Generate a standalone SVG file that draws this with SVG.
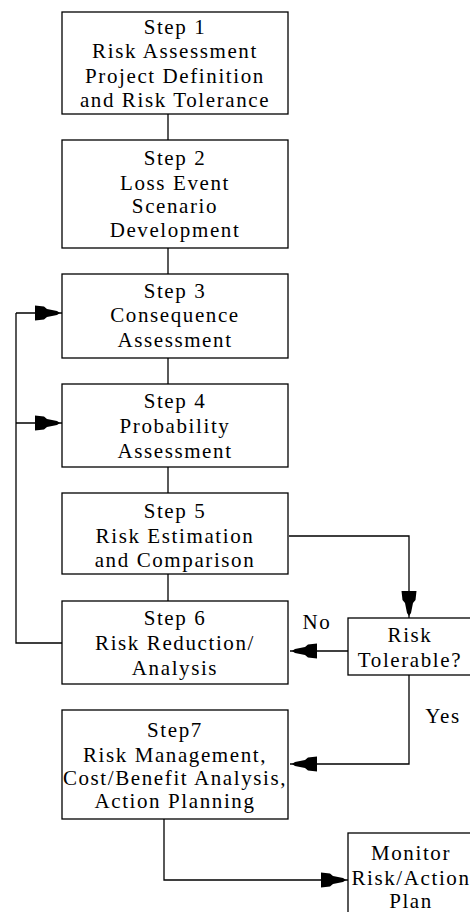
<svg xmlns="http://www.w3.org/2000/svg" width="470" height="912" viewBox="0 0 470 912">
<defs>
<style>
.box{fill:#fff;stroke:#000;stroke-width:1.3}
.ln{fill:none;stroke:#000;stroke-width:1.3}
.arr{fill:none;stroke:#000;stroke-width:1.3;marker-end:url(#ah)}
</style>
<marker id="ah" markerUnits="userSpaceOnUse" viewBox="-26 -8 30 16" markerWidth="30" markerHeight="16" refX="2" refY="0" orient="auto">
<polygon points="-25,-7.5 -16,-6.5 -13,-4 -3,-2 0,0 -3,2 -13,4 -16,6.5 -25,7.5" fill="#000"/>
</marker>
</defs>
<rect width="470" height="912" fill="#fff"/>
<g font-family="Liberation Serif, Times New Roman, serif" font-size="21" letter-spacing="1.6" text-anchor="middle" fill="#000">
<g id="connectors">
<path class="ln" d="M168,114 V140"/>
<path class="ln" d="M168,248 V274"/>
<path class="ln" d="M168,358 V384"/>
<path class="ln" d="M168,467 V493"/>
<path class="ln" d="M168,574 V601"/>
<path class="ln" d="M62,643 H16 V313"/>
<path class="arr" d="M16,313 H62"/>
<path class="arr" d="M16,423 H62"/>
<path class="arr" d="M289,536 H409 V618"/>
<path class="arr" d="M348,651 H290"/>
<path class="arr" d="M409,675 V764 H290"/>
<path class="arr" d="M164,819 V880 H348"/>
<text x="317" y="629">No</text>
<text x="443" y="723">Yes</text>
</g>
<g id="step1">
<rect class="box" x="62" y="12" width="226" height="102"/>
<text x="175" y="34">Step 1</text>
<text x="175" y="58">Risk Assessment</text>
<text x="175" y="83">Project Definition</text>
<text x="175" y="107">and Risk Tolerance</text>
</g>
<g id="step2">
<rect class="box" x="62" y="140" width="226" height="108"/>
<text x="175" y="165">Step 2</text>
<text x="175" y="190">Loss Event</text>
<text x="175" y="213">Scenario</text>
<text x="175" y="237">Development</text>
</g>
<g id="step3">
<rect class="box" x="62" y="274" width="226" height="84"/>
<text x="175" y="298">Step 3</text>
<text x="175" y="322">Consequence</text>
<text x="175" y="347">Assessment</text>
</g>
<g id="step4">
<rect class="box" x="62" y="384" width="226" height="83"/>
<text x="175" y="408">Step 4</text>
<text x="175" y="433">Probability</text>
<text x="175" y="458">Assessment</text>
</g>
<g id="step5">
<rect class="box" x="62" y="493" width="226" height="81"/>
<text x="175" y="518">Step 5</text>
<text x="175" y="543">Risk Estimation</text>
<text x="175" y="567">and Comparison</text>
</g>
<g id="step6">
<rect class="box" x="62" y="601" width="226" height="83"/>
<text x="175" y="625">Step 6</text>
<text x="175" y="650">Risk Reduction/</text>
<text x="175" y="675">Analysis</text>
</g>
<g id="risk-tolerable">
<rect class="box" x="348" y="618" width="126" height="57"/>
<text x="410" y="642">Risk</text>
<text x="410" y="667">Tolerable?</text>
</g>
<g id="step7">
<rect class="box" x="62" y="710" width="226" height="109"/>
<text x="175" y="737">Step7</text>
<text x="175" y="762">Risk Management,</text>
<text x="175" y="785">Cost/Benefit Analysis,</text>
<text x="175" y="808">Action Planning</text>
</g>
<g id="monitor">
<rect class="box" x="348" y="833" width="126" height="84"/>
<text x="411" y="860">Monitor</text>
<text x="411" y="885">Risk/Action</text>
<text x="411" y="908">Plan</text>
</g>
</g>
</svg>
